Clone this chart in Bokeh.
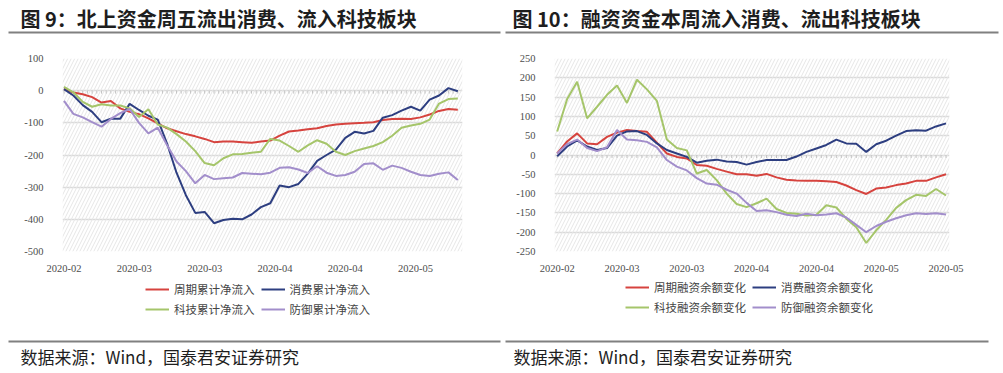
from bokeh.plotting import figure
from bokeh.models import Range1d, FixedTicker, Legend, LegendItem, BoxAnnotation
from bokeh.layouts import column, row
from bokeh.embed import file_html
from bokeh.resources import INLINE
from bokeh.core.properties import value

# ---------------- texts ----------------
title_left = "图 9：北上资金周五流出消费、流入科技板块"
title_right = "图 10：融资资金本周流入消费、流出科技板块"
source_text = "数据来源：Wind，国泰君安证券研究"

# ---------------- left chart data (northbound cumulative net inflow) ----------------
left_x = list(range(0, 85, 2))
left_cycle = [5, -6, -11, -20, -37, -32, -55, -66, -73, -86, -102, -117, -126, -135, -142, -150, -160, -158, -158, -160, -162,
              -158, -155, -140, -127, -124, -120, -117, -110, -105, -103, -101, -100, -98, -91, -88, -87, -88, -83, -74, -63, -57, -59]
left_consumer = [5, -15, -45, -66, -98, -87, -87, -41, -60, -78, -90, -165, -255, -325, -380, -377, -412, -402, -398, -400, -385,
                 -362, -350, -295, -300, -290, -258, -218, -200, -183, -147, -128, -133, -125, -84, -76, -62, -50, -62, -28, -15, 8, -2]
left_tech = [12, -5, -35, -50, -42, -46, -46, -55, -82, -58, -105, -115, -135, -158, -188, -225, -232, -210, -198, -197, -193,
             -190, -150, -155, -172, -190, -170, -154, -165, -190, -200, -188, -180, -172, -160, -140, -115, -108, -103, -90, -40, -26, -24]
left_defense = [-32, -72, -83, -98, -112, -88, -70, -57, -100, -133, -115, -170, -220, -250, -288, -262, -275, -272, -270, -256, -258,
                 -260, -255, -240, -238, -245, -256, -235, -255, -265, -262, -252, -228, -226, -246, -233, -240, -252, -262, -265, -258, -254, -278]
left_names = ["周期累计净流入", "消费累计净流入", "科技累计净流入", "防御累计净流入"]
left_ticks = [0, 15, 30, 45, 60, 75]
left_tick_labels = ["2020-02", "2020-03", "2020-03", "2020-04", "2020-04", "2020-05"]
left_yticks = [-500, -400, -300, -200, -100, 0, 100]

# ---------------- right chart data (margin balance change) ----------------
right_x = list(range(0, 79, 2))
right_cycle = [4, 35, 56, 30, 28, 47, 58, 65, 62, 60, 32, 4, -5, -9, -26, -28, -36, -43, -50, -50,
               -54, -49, -58, -64, -66, -67, -67, -68, -70, -79, -91, -101, -87, -84, -78, -74, -67, -67, -58, -50]
right_consumer = [-3, 22, 38, 22, 13, 18, 50, 61, 62, 52, 30, 13, 4, -5, -20, -15, -12, -17, -18, -25,
                  -18, -13, -13, -13, -4, 8, 17, 26, 40, 30, 29, 8, 28, 37, 50, 62, 64, 63, 74, 82]
right_tech = [61, 145, 190, 95, 125, 156, 180, 135, 195, 170, 140, 40, 18, 12, -48, -39, -65, -100, -127, -135,
              -125, -113, -140, -150, -152, -157, -155, -130, -136, -165, -187, -228, -195, -168, -137, -117, -103, -106, -88, -105]
right_defense = [4, 28, 40, 18, 10, 20, 65, 40, 38, 34, 20, -13, -30, -40, -60, -74, -77, -90, -100, -124,
                 -145, -143, -148, -155, -158, -152, -156, -154, -151, -162, -181, -200, -184, -173, -164, -156, -151, -153, -151, -154]
right_names = ["周期融资余额变化", "消费融资余额变化", "科技融资余额变化", "防御融资余额变化"]
right_ticks = [0, 13, 26, 39, 52, 65, 78]
right_tick_labels = ["2020-02", "2020-03", "2020-03", "2020-04", "2020-04", "2020-05", "2020-05"]
right_yticks = [-250, -200, -150, -100, -50, 0, 50, 100, 150, 200, 250]

# ---------------- styles ----------------
COLORS = ["#d6433e", "#2d3e80", "#a5c56a", "#a28ecb"]
CJK = "Noto Sans CJK SC"
SERIF = "Liberation Serif"
TXT = "#1e1e1e"
RULE = "#808080"
LINE_W = 2


def chart(xs, series, ticks, tick_labels, yticks, xr, yr, w, h, bl, br, bt, bb):
    p = figure(width=w, height=h, x_range=Range1d(*xr), y_range=Range1d(*yr),
               output_backend="svg", toolbar_location=None,
               min_border_left=bl, min_border_right=br, min_border_top=bt, min_border_bottom=bb)
    p.outline_line_color = None
    p.border_fill_color = "white"
    p.background_fill_color = "white"

    p.add_layout(BoxAnnotation(fill_alpha=0, line_alpha=0, hatch_pattern="/", hatch_color="#e6e6e6",
                               hatch_scale=7, hatch_weight=1, level="underlay"))

    yt = FixedTicker(ticks=yticks)
    p.yaxis[0].ticker = yt
    p.ygrid[0].ticker = yt
    p.ygrid.grid_line_color = "#dadada"
    p.ygrid.grid_line_width = 1.5
    p.xgrid.visible = False
    p.yaxis.major_label_overrides = {v: str(v) for v in yticks}

    xt = FixedTicker(ticks=ticks)
    p.xaxis[0].ticker = xt
    p.xaxis.major_label_overrides = {t: lab for t, lab in zip(ticks, tick_labels)}

    for ax in (p.xaxis, p.yaxis):
        ax.axis_line_color = None
        ax.major_tick_line_color = None
        ax.minor_tick_line_color = None
        ax.major_label_text_font = SERIF
        ax.major_label_text_font_size = "10.5px"
        ax.major_label_text_color = "#4d4d4d"
    p.yaxis.major_label_standoff = 13
    p.xaxis.major_label_standoff = 7

    # category tick marks along the zero line
    frame_h = h - bt - bb
    tick_len = (yr[1] - yr[0]) * 3.0 / frame_h
    cats = list(range(0, xs[-1] + 1))
    p.segment(x0=cats, y0=[0] * len(cats), x1=cats, y1=[-tick_len] * len(cats),
              line_color="#c4c4c4", line_width=1)

    for ys, c in zip(series, COLORS):
        p.line(xs, ys, line_color=c, line_width=LINE_W)
    return p


def legend_band(xs, series, names, w, h, lx, ly_top_row):
    # the same series are drawn here but the view window lies far above every value,
    # so only the legend entries are visible in this strip
    f = figure(width=w, height=h, x_range=Range1d(0, 1), y_range=Range1d(10000, 10001),
               output_backend="svg", toolbar_location=None, x_axis_type=None, y_axis_type=None,
               min_border=0)
    f.outline_line_color = None
    f.xgrid.visible = False
    f.ygrid.visible = False
    items = []
    for ys, c, n in zip(series, COLORS, names):
        r = f.line(xs, ys, line_color=c, line_width=LINE_W)
        items.append(LegendItem(label=n, renderers=[r]))
    for its, ly in ((items[:2], ly_top_row), (items[2:], ly_top_row - 20)):
        f.add_layout(Legend(items=its, orientation="horizontal", location=(lx, ly),
                            label_text_font=CJK, label_text_font_size="11.5px",
                            label_text_color="#444444",
                            glyph_width=24, glyph_height=14, label_height=14, label_standoff=5,
                            spacing=6, padding=0, margin=0, border_line_color=None,
                            background_fill_alpha=0))
    return f


left_series = [left_cycle, left_consumer, left_tech, left_defense]
right_series = [right_cycle, right_consumer, right_tech, right_defense]

p_left = chart(left_x, left_series, left_ticks, left_tick_labels, left_yticks,
               (-0.32, 85.0), (-500, 100), 501, 227, 62, 39, 9, 23)
p_right = chart(right_x, right_series, right_ticks, right_tick_labels, right_yticks,
                (-0.54, 78.7), (-250, 250), 502, 227, 53, 54, 10, 24)

leg_left = legend_band(left_x, left_series, left_names, 501, 55, 145, 33)
leg_right = legend_band(right_x, right_series, right_names, 502, 55, 124, 35)


def band(h):
    f = figure(width=1003, height=h, x_range=Range1d(0, 1003), y_range=Range1d(h, 0),
               output_backend="svg", toolbar_location=None, x_axis_type=None, y_axis_type=None,
               min_border=0)
    f.outline_line_color = None
    f.xgrid.visible = False
    f.ygrid.visible = False
    return f


header = band(48)
header.segment(x0=[8, 505], y0=[32, 32], x1=[500, 998], y1=[32, 32], line_color=RULE, line_width=2)
header.text(x=[20, 512], y=[18, 18], text=[title_left, title_right], text_font=value(CJK),
            text_font_style="bold", text_font_size="20px", text_color=TXT, text_baseline="middle")

footer = band(43)
footer.segment(x0=[8, 505], y0=[11, 11], x1=[500, 988], y1=[11, 11], line_color=RULE, line_width=2)
footer.text(x=[20, 513], y=[26, 26], text=[source_text, source_text], text_font=value(CJK),
            text_font_size="17px", text_color=TXT, text_baseline="middle")

layout = column(header, row(p_left, p_right), row(leg_left, leg_right), footer)
open("out.html", "w").write(file_html(layout, INLINE))
